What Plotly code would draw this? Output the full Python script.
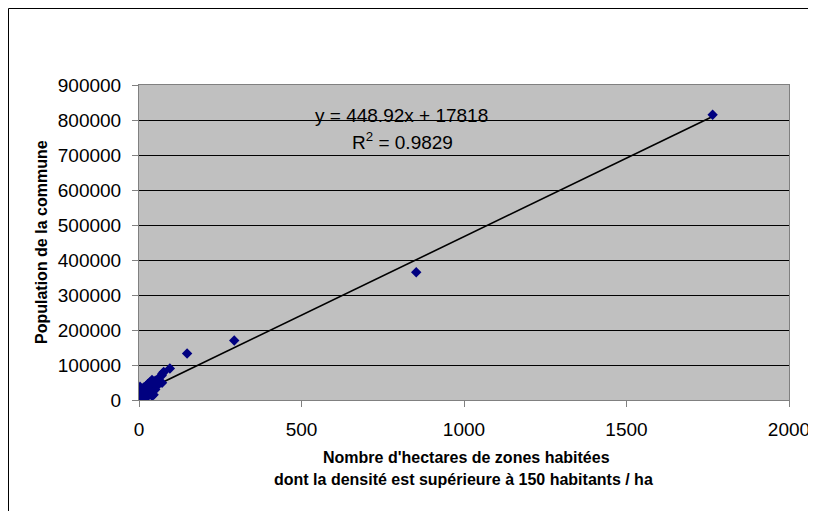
import plotly.graph_objects as go

# Data
hectares = [1765, 853, 293, 148, 95, 76, 72, 70, 71, 58, 50, 45, 40, 38, 35, 33, 30, 28, 27, 25,
            24, 22, 20, 18, 17, 15, 14, 12, 11, 10, 9, 8, 7, 6, 5, 4, 3, 3, 2, 2,
            1, 1, 0.5, 0, 0, 45, 40, 35, 30, 25, 20, 50, 55, 15, 10]
population = [815000, 365000, 170000, 133000, 90000, 80000, 76000, 70000, 49000, 60000, 55000, 52000, 57000, 48000, 45000, 50000, 42000, 38000, 46000, 35000,
              30000, 40000, 33000, 28000, 24000, 36000, 21000, 27000, 18000, 32000, 15000, 22000, 12000, 26000, 17000, 10000, 38000, 20000, 14000, 30000,
              9000, 22000, 12000, 35000, 18000, 15000, 12000, 20000, 14000, 10000, 12000, 30000, 40000, 8000, 6000]

slope = 448.92
intercept = 17818
r2 = 0.9829

x_ticks = [0, 500, 1000, 1500, 2000]
y_ticks = [0, 100000, 200000, 300000, 400000, 500000, 600000, 700000, 800000, 900000]

FONT = "Liberation Sans, Arial, sans-serif"

xmin, xmax = min(hectares), max(hectares)
trend_x = [xmin, xmax]
trend_y = [slope * v + intercept for v in trend_x]

fig = go.Figure()
fig.add_trace(go.Scatter(x=trend_x, y=trend_y, mode="lines",
                         line=dict(color="black", width=1.6), hoverinfo="skip"))
fig.add_trace(go.Scatter(x=hectares, y=population, mode="markers",
                         marker=dict(symbol="diamond", size=8, color="#000080",
                                     line=dict(width=0))))

# page has an 8px body margin
OFF = 8
W, H = 808, 503
L, R, T, B = 131, 27, 77, 111
pw, ph = W - L - R, H - T - B


def px(x):  # page pixel -> paper fraction
    return (x - OFF - L) / pw


def py(y):
    return (H - B - (y - OFF)) / ph


def label(text, x, y, size, angle=0):
    return dict(text=text, xref="paper", yref="paper", x=px(x), y=py(y),
                xanchor="center", yanchor="middle", textangle=angle,
                showarrow=False, font=dict(size=size))


border = dict(color="black", width=1)

fig.update_layout(
    width=W, height=H,
    margin=dict(l=L, r=R, t=T, b=B),
    paper_bgcolor="white",
    plot_bgcolor="#C0C0C0",
    showlegend=False,
    font=dict(family=FONT, size=19, color="black"),
    xaxis=dict(range=[0, 2000], tickvals=x_ticks, ticktext=[str(v) for v in x_ticks],
               showgrid=False, zeroline=False, showline=True, mirror=True,
               linecolor="#808080", linewidth=1, ticks="outside", ticklen=6,
               tickcolor="#808080", tickfont=dict(size=19), ticklabelstandoff=6,
               ticklabeloverflow="allow", automargin=False),
    yaxis=dict(range=[0, 900000], tickvals=y_ticks, ticktext=[str(v) for v in y_ticks],
               showgrid=True, gridcolor="#000000", gridwidth=1, zeroline=False,
               showline=True, mirror=True, linecolor="#808080", linewidth=1,
               ticks="outside", ticklen=6, tickcolor="#808080", tickfont=dict(size=19),
               ticklabelstandoff=7, ticklabeloverflow="allow", automargin=False),
    annotations=[
        label(f"y = {slope}x + {intercept}", 401, 115, 19),
        label(f"R<sup>2</sup> = {r2}", 402, 141, 19),
        label("<b>Population de la commune</b>", 41, 242, 16, -90),
        label("<b>Nombre d'hectares de zones habitées</b>", 466, 457, 16),
        label("<b>dont la densité est supérieure à 150 habitants / ha</b>", 463, 479, 16),
    ],
    shapes=[
        dict(type="line", xref="paper", yref="paper",
             x0=px(8.5), x1=px(820), y0=py(8.5), y1=py(8.5), line=border, layer="below"),
        dict(type="line", xref="paper", yref="paper",
             x0=px(8.5), x1=px(8.5), y0=py(8.5), y1=py(520), line=border, layer="below"),
    ],
)

fig.write_html("out.html")
